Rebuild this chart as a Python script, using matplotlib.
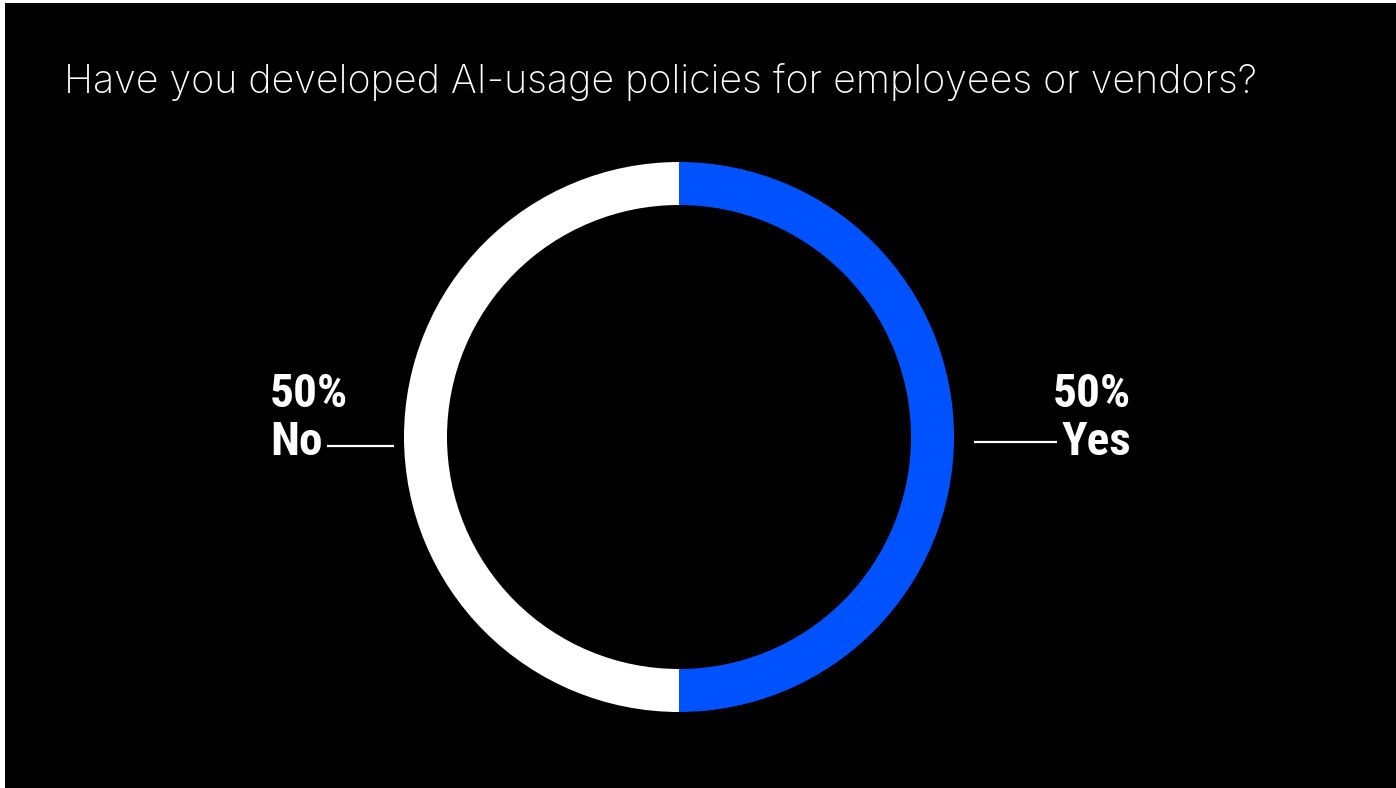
import matplotlib
matplotlib.use("Agg")
import matplotlib.pyplot as plt
from matplotlib.patches import Rectangle

# survey answers
answers = ["Yes", "No"]
shares = [50, 50]
colors = ["#0052ff", "#ffffff"]

title = "Have you developed AI-usage policies for employees or vendors?"

W, H = 1396, 788
fig = plt.figure(figsize=(W / 100, H / 100), dpi=100, facecolor="white")
ax = fig.add_axes([0, 0, 1, 1])

# black slide area (thin white margin on the left and top)
ax.add_patch(Rectangle((5, 0), W - 5, H - 3, facecolor="black", edgecolor="none", zorder=0))

cx, cy = 679, H - 437
ax.pie(shares, colors=colors, startangle=90, counterclock=False,
       center=(cx, cy), radius=275, frame=True,
       wedgeprops=dict(width=43, edgecolor="none"))
ax.set_xlim(0, W)
ax.set_ylim(0, H)
ax.set_aspect("equal")
ax.axis("off")

ax.text(64, H - 93, title, color="white", fontsize=28.3, family="Inter",
        fontweight="light", ha="left", va="baseline")

lab_font = dict(color="white", fontsize=34, family=["Roboto Condensed", "DejaVu Sans"],
                fontweight="bold", fontstretch="condensed", va="baseline")

# right label (Yes)
ax.text(1131, H - 407, f"{shares[0]}%", ha="right", **lab_font)
yes_txt = ax.text(1131, H - 455, answers[0], ha="right", **lab_font)

# left label (No)
ax.text(270, H - 407, f"{shares[1]}%", ha="left", **lab_font)
no_txt = ax.text(270, H - 455, answers[1], ha="left", **lab_font)

# leader lines stop just short of the answer words
fig.canvas.draw()
r = fig.canvas.get_renderer()
to_data = ax.transData.inverted()
yes_x0 = to_data.transform(yes_txt.get_window_extent(r))[0, 0]
no_x1 = to_data.transform(no_txt.get_window_extent(r))[1, 0]
ax.plot([974, yes_x0 - 4], [H - 442, H - 442], color="white", lw=1.6, solid_capstyle="butt")
ax.plot([no_x1 + 4, 394], [H - 446, H - 446], color="white", lw=1.6, solid_capstyle="butt")

fig.savefig("out.png", dpi=100, facecolor=fig.get_facecolor())
